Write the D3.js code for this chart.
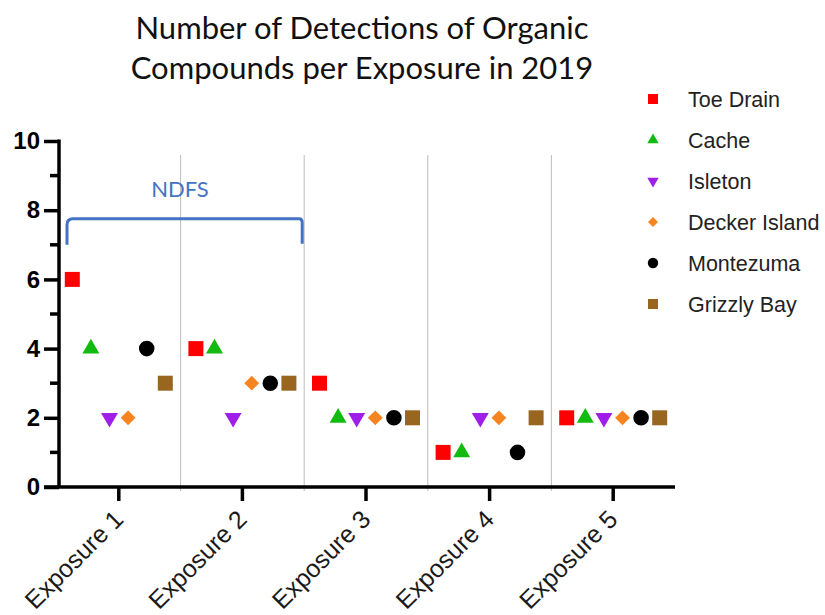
<!DOCTYPE html>
<html>
<head>
<meta charset="utf-8">
<script src="https://cdn.jsdelivr.net/npm/d3@7"></script>
<style>
  body { margin: 0; background: #fff; }
  svg { display: block; }
</style>
</head>
<body>
<svg id="chart" width="825" height="615"></svg>
<script>
var exposures = ["Exposure 1", "Exposure 2", "Exposure 3", "Exposure 4", "Exposure 5"];
var sites = ["Toe Drain", "Cache", "Isleton", "Decker Island", "Montezuma", "Grizzly Bay"];
var toeDrain = [6, 4, 3, 1, 2];
var cache = [4, 4, 2, 1, 2];
var isleton = [2, 2, 2, 2, 2];
var deckerIsland = [2, 3, 2, 2, 2];
var montezuma = [4, 3, 2, 1, 2];
var grizzlyBay = [3, 3, 2, 2, 2];
var yTicks = [0, 2, 4, 6, 8, 10];
var yMinorTicks = [1, 3, 5, 7, 9];

var siteValues = [toeDrain, cache, isleton, deckerIsland, montezuma, grizzlyBay];
var colors = ["#ff0000", "#11bb11", "#a01fe8", "#f6841f", "#000000", "#99661f"];
var shapes = [d3.symbolSquare, d3.symbolTriangle, d3.symbolTriangle, d3.symbolSquare, d3.symbolCircle, d3.symbolSquare];
var rotate = [0, 0, 180, 45, 0, 0];
var sizes = [225, 125, 125, 110, 190, 225];

var svg = d3.select("#chart");

var x = d3.scaleBand().domain(exposures).range([57, 675]);
var y = d3.scaleLinear().domain([0, 10]).range([487, 141]);
var offset = d3.scalePoint().domain(sites).range([-46.5, 46.5]);

// title
var title = svg.append("text")
  .attr("text-anchor", "middle")
  .style("font-family", "Lato, 'Open Sans', sans-serif")
  .style("font-size", "31px")
  .style("fill", "#111");
title.append("tspan").attr("x", 362).attr("y", 39).text("Number of Detections of Organic");
title.append("tspan").attr("x", 362).attr("y", 79).text("Compounds per Exposure in 2019");

// vertical separators between exposures
svg.append("g").selectAll("line")
  .data(exposures.slice(1))
  .enter().append("line")
  .attr("x1", function(d) { return x(d); })
  .attr("x2", function(d) { return x(d); })
  .attr("y1", 155)
  .attr("y2", 491)
  .style("stroke", "#bdbdbd")
  .style("stroke-width", 1);

// y axis
var yAxis = d3.axisLeft(y).tickValues(yTicks).tickSize(15).tickPadding(4);
var yg = svg.append("g")
  .attr("transform", "translate(59,0)")
  .call(yAxis);
yg.select("path.domain").attr("d", "M0," + (y(10) - 1.5) + "V" + y(0));
svg.append("g")
  .attr("transform", "translate(59,0)")
  .selectAll("line")
  .data(yMinorTicks)
  .enter().append("line")
  .attr("x1", -9).attr("x2", 0)
  .attr("y1", function(d) { return y(d); })
  .attr("y2", function(d) { return y(d); })
  .style("stroke", "#000")
  .style("stroke-width", 3.5);
yg.selectAll("path, line").style("stroke", "#000").style("stroke-width", 3.5);
yg.selectAll("text")
  .style("font-family", "Arial, 'Liberation Sans', sans-serif")
  .style("font-weight", "bold")
  .style("font-size", "24px")
  .style("fill", "#000");

// x axis
var xAxis = d3.axisBottom(x).tickSize(14).tickSizeOuter(0).tickFormat("");
var xg = svg.append("g")
  .attr("transform", "translate(0,487)")
  .call(xAxis);
xg.select("path.domain").attr("d", "M" + 44 + ",0H" + 675);
xg.selectAll("path, line").style("stroke", "#000").style("stroke-width", 3.5);

svg.append("g").selectAll("text")
  .data(exposures)
  .enter().append("text")
  .attr("transform", function(d) {
    return "translate(" + (x(d) + x.bandwidth() / 2 + 6) + ",521) rotate(-45)";
  })
  .attr("text-anchor", "end")
  .style("font-family", "Arial, 'Liberation Sans', sans-serif")
  .style("font-size", "25px")
  .style("fill", "#1a1a1a")
  .text(function(d) { return d; });

// NDFS bracket annotation
var bracket = { from: "Exposure 1", to: "Exposure 2", low: 7.0, high: 7.75, label: "NDFS" };
var bx0 = x(bracket.from) + 10;
var bx1 = x(bracket.to) + x.bandwidth() - 2;
var by0 = y(bracket.low);
var by1 = y(bracket.high);
svg.append("path")
  .attr("d", "M" + bx0 + "," + by0 + "V" + (by1 + 6) + "Q" + bx0 + "," + by1 + " " + (bx0 + 6) + "," + by1 +
    "H" + (bx1 - 3) + "Q" + bx1 + "," + by1 + " " + bx1 + "," + (by1 + 4) + "V" + (by0 - 1))
  .style("fill", "none")
  .style("stroke", "#4472c4")
  .style("stroke-width", 3);
svg.append("text")
  .attr("x", 180)
  .attr("y", 197)
  .attr("text-anchor", "middle")
  .style("font-family", "Lato, 'Open Sans', sans-serif")
  .style("font-size", "22px")
  .style("fill", "#4472c4")
  .text(bracket.label);

// points
sites.forEach(function(site, i) {
  svg.append("g").selectAll("path")
    .data(siteValues[i])
    .enter().append("path")
    .attr("d", d3.symbol().type(shapes[i]).size(sizes[i]))
    .attr("transform", function(d, j) {
      var cx = x(exposures[j]) + x.bandwidth() / 2 + offset(site);
      return "translate(" + cx + "," + y(d) + ") rotate(" + rotate[i] + ")";
    })
    .style("fill", colors[i]);
});

// legend
var legend = svg.append("g").selectAll("g")
  .data(sites)
  .enter().append("g")
  .attr("transform", function(d, i) { return "translate(653," + (99 + i * 41) + ")"; });
legend.append("path")
  .attr("d", function(d, i) { return d3.symbol().type(shapes[i]).size(sizes[i] * 0.45)(); })
  .attr("transform", function(d, i) { return "rotate(" + rotate[i] + ")"; })
  .style("fill", function(d, i) { return colors[i]; });
legend.append("text")
  .attr("x", 35)
  .attr("y", 8)
  .style("font-family", "Arial, 'Liberation Sans', sans-serif")
  .style("font-size", "21.5px")
  .style("fill", "#222")
  .text(function(d) { return d; });
</script>
</body>
</html>
